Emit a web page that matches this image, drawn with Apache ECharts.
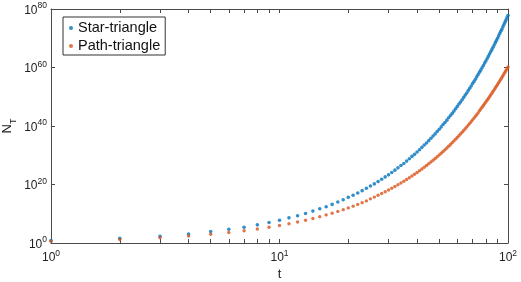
<!DOCTYPE html>
<html>
<head>
<meta charset="utf-8">
<script src="https://cdn.jsdelivr.net/npm/echarts@6/dist/echarts.min.js"></script>
<style>
html, body { margin: 0; padding: 0; background: #fff; }
#chart { width: 521px; height: 282px; }
</style>
</head>
<body>
<div id="chart"></div>
<script>
// t = 1..100
const tValues = [1, 2, 3, 4, 5, 6, 7, 8, 9, 10, 11, 12, 13, 14, 15, 16, 17, 18, 19, 20,
    21, 22, 23, 24, 25, 26, 27, 28, 29, 30, 31, 32, 33, 34, 35, 36, 37, 38, 39, 40,
    41, 42, 43, 44, 45, 46, 47, 48, 49, 50, 51, 52, 53, 54, 55, 56, 57, 58, 59, 60,
    61, 62, 63, 64, 65, 66, 67, 68, 69, 70, 71, 72, 73, 74, 75, 76, 77, 78, 79, 80,
    81, 82, 83, 84, 85, 86, 87, 88, 89, 90, 91, 92, 93, 94, 95, 96, 97, 98, 99, 100];

// log10(N_T)
const starLog = [0.8, 1.6, 2.3, 3.1, 3.9, 4.7, 5.4, 6.2, 7.0, 7.8,
    8.6, 9.3, 10.1, 10.9, 11.7, 12.4, 13.2, 14.0, 14.8, 15.6,
    16.3, 17.1, 17.9, 18.7, 19.5, 20.2, 21.0, 21.8, 22.6, 23.3,
    24.1, 24.9, 25.7, 26.5, 27.2, 28.0, 28.8, 29.6, 30.3, 31.1,
    31.9, 32.7, 33.5, 34.2, 35.0, 35.8, 36.6, 37.3, 38.1, 38.9,
    39.7, 40.5, 41.2, 42.0, 42.8, 43.6, 44.3, 45.1, 45.9, 46.7,
    47.5, 48.2, 49.0, 49.8, 50.6, 51.3, 52.1, 52.9, 53.7, 54.5,
    55.2, 56.0, 56.8, 57.6, 58.4, 59.1, 59.9, 60.7, 61.5, 62.2,
    63.0, 63.8, 64.6, 65.4, 66.1, 66.9, 67.7, 68.5, 69.2, 70.0,
    70.8, 71.6, 72.4, 73.1, 73.9, 74.7, 75.5, 76.2, 77.0, 77.8];

const pathLog = [0.6, 1.2, 1.8, 2.4, 3.0, 3.6, 4.2, 4.8, 5.4, 6.0,
    6.6, 7.2, 7.8, 8.4, 9.0, 9.6, 10.2, 10.8, 11.4, 12.0,
    12.6, 13.2, 13.8, 14.4, 15.1, 15.7, 16.3, 16.9, 17.5, 18.1,
    18.7, 19.3, 19.9, 20.5, 21.1, 21.7, 22.3, 22.9, 23.5, 24.1,
    24.7, 25.3, 25.9, 26.5, 27.1, 27.7, 28.3, 28.9, 29.5, 30.1,
    30.7, 31.3, 31.9, 32.5, 33.1, 33.7, 34.3, 34.9, 35.5, 36.1,
    36.7, 37.3, 37.9, 38.5, 39.1, 39.7, 40.3, 40.9, 41.5, 42.1,
    42.7, 43.3, 43.9, 44.5, 45.2, 45.8, 46.4, 47.0, 47.6, 48.2,
    48.8, 49.4, 50.0, 50.6, 51.2, 51.8, 52.4, 53.0, 53.6, 54.2,
    54.8, 55.4, 56.0, 56.6, 57.2, 57.8, 58.4, 59.0, 59.6, 60.2];

const xLabelValues = [1, 10, 100];
const xTickValues = [1, 2, 3, 4, 5, 6, 7, 8, 9, 10, 20, 30, 40, 50, 60, 70, 80, 90, 100];
const yExpTicks = [0, 20, 40, 60, 80];

const axisColor = '#4a4a4a';
const font = '"Liberation Sans", Arial, sans-serif';
const powRich = {
    b: { fontSize: 12, lineHeight: 15, color: '#222', fontFamily: font, verticalAlign: 'bottom' },
    e: { fontSize: 8.5, lineHeight: 9, color: '#222', fontFamily: font, verticalAlign: 'top' }
};

let chart = echarts.init(document.getElementById('chart'));
let option = {
    animation: false,
    textStyle: { fontFamily: font },
    grid: { left: 51, right: 13, top: 9, bottom: 39, containLabel: false, outerBoundsMode: 'none' },
    legend: {
        left: 63,
        top: 17,
        orient: 'vertical',
        data: ['Star-triangle', 'Path-triangle'],
        itemWidth: 4,
        itemHeight: 4,
        itemGap: 2,
        padding: [3, 5, 1, 6],
        borderColor: '#333',
        borderWidth: 1,
        textStyle: { fontSize: 14.5, lineHeight: 16, color: '#111', fontFamily: font }
    },
    xAxis: [
        {
            type: 'log',
            logBase: 10,
            min: 1,
            max: 100,
            name: 't',
            nameLocation: 'middle',
            nameGap: 25,
            nameMoveOverlap: false,
            nameTextStyle: { fontSize: 13, color: '#222', fontFamily: font },
            axisLine: { onZero: false, lineStyle: { color: axisColor, width: 1 } },
            axisTick: { inside: true, length: 4, customValues: xTickValues, lineStyle: { color: axisColor } },
            axisLabel: {
                customValues: xLabelValues,
                margin: 6,
                formatter: v => '{b|10}{e|' + Math.round(Math.log10(v)) + '}',
                rich: powRich
            },
            splitLine: { show: false }
        },
        {
            type: 'log',
            logBase: 10,
            min: 1,
            max: 100,
            position: 'top',
            axisLine: { onZero: false, lineStyle: { color: axisColor, width: 1 } },
            axisTick: { inside: true, length: 4, customValues: xTickValues, lineStyle: { color: axisColor } },
            axisLabel: { show: false },
            splitLine: { show: false }
        }
    ],
    yAxis: [
        {
            type: 'value',
            min: 0,
            max: 80,
            interval: 20,
            name: '{n|N}{s|T}',
            nameLocation: 'middle',
            nameGap: 33,
            nameMoveOverlap: false,
            nameTextStyle: {
                rich: {
                    n: { fontSize: 13, lineHeight: 17, color: '#222', fontFamily: font, verticalAlign: 'top' },
                    s: { fontSize: 9, lineHeight: 9, color: '#222', fontFamily: font, verticalAlign: 'bottom' }
                }
            },
            axisLine: { show: true, onZero: false, lineStyle: { color: axisColor, width: 1 } },
            axisTick: { show: true, inside: true, length: 4, lineStyle: { color: axisColor } },
            axisLabel: {
                margin: 4,
                formatter: v => '{b|10}{e|' + v + '}',
                rich: powRich
            },
            splitLine: { show: false }
        },
        {
            type: 'value',
            min: 0,
            max: 80,
            interval: 20,
            position: 'right',
            axisLine: { show: true, onZero: false, lineStyle: { color: axisColor, width: 1 } },
            axisTick: { show: true, inside: true, length: 4, lineStyle: { color: axisColor } },
            axisLabel: { show: false },
            splitLine: { show: false }
        }
    ],
    series: [
        {
            name: 'Star-triangle',
            type: 'scatter',
            symbol: 'circle',
            symbolSize: 3.6,
            itemStyle: { color: '#0072BD' },
            data: tValues.map((t, i) => [t, starLog[i]])
        },
        {
            name: 'Path-triangle',
            type: 'scatter',
            symbol: 'circle',
            symbolSize: 3.4,
            itemStyle: { color: '#D95319' },
            data: tValues.map((t, i) => [t, pathLog[i]])
        }
    ]
};
chart.setOption(option);
</script>
</body>
</html>
